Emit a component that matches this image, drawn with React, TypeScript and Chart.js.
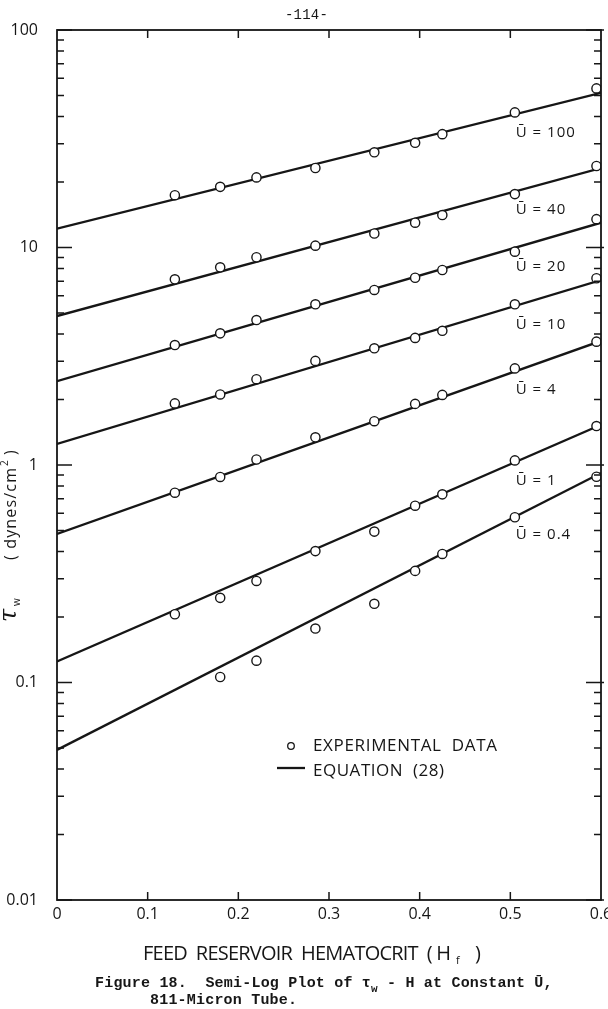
import React, { useEffect, useRef } from 'react';
import { Chart, registerables } from 'chart.js';

Chart.register(...registerables);

// Feed reservoir hematocrit values at which wall shear stress was measured
const hematocrit = [0.13, 0.18, 0.22, 0.285, 0.35, 0.395, 0.425, 0.505, 0.595];

// Mean velocity (Ū) of each family of measurements
const velocities = ['100', '40', '20', '10', '4', '1', '0.4'];

// Measured wall shear stress τw (dynes/cm²), one list per Ū
const tauU100 = [17.4, 19.0, 21.0, 23.2, 27.4, 30.3, 33.2, 41.8, 53.9];
const tauU40 = [7.14, 8.11, 9.02, 10.2, 11.6, 13.0, 14.1, 17.6, 23.7];
const tauU20 = [3.56, 4.03, 4.64, 5.48, 6.38, 7.26, 7.88, 9.57, 13.5];
const tauU10 = [1.92, 2.11, 2.48, 3.01, 3.44, 3.84, 4.14, 5.48, 7.22];
const tauU4 = [0.746, 0.881, 1.06, 1.34, 1.59, 1.91, 2.1, 2.78, 3.69];
const tauU1 = [0.206, 0.245, 0.293, 0.402, 0.494, 0.65, 0.733, 1.05, 1.51];
const tauU04 = [null, 0.106, 0.126, 0.177, 0.23, 0.326, 0.39, 0.575, 0.883];
const tauSeries = [tauU100, tauU40, tauU20, tauU10, tauU4, tauU1, tauU04];

// Equation (28) evaluated at the two ends of the hematocrit range
const equationH = [0, 0.6];
const equationAtStart = [12.2, 4.84, 2.43, 1.25, 0.482, 0.125, 0.049];
const equationAtEnd = [51.4, 23.2, 13.0, 7.09, 3.72, 1.53, 0.918];

// Axis ticks
const xTicks = [0, 0.1, 0.2, 0.3, 0.4, 0.5, 0.6];
const xTickLabels = ['0', '0.1', '0.2', '0.3', '0.4', '0.5', '0.6'];
const yDecades = [0.01, 0.1, 1, 10, 100];
const yTickLabels = ['0.01', '0.1', '1', '10', '100'];

// Hematocrit at which the Ū labels sit under each line
const labelH = 0.506;

const INK = '#161616';
const SANS = '"Open Sans", "DejaVu Sans", sans-serif';
const MONO = '"Liberation Mono", "DejaVu Sans Mono", monospace';

function fitText(ctx: CanvasRenderingContext2D, text: string, x: number, y: number, width: number) {
  (ctx as any).letterSpacing = '0px';
  const w = ctx.measureText(text).width;
  const n = Array.from(text).length;
  const ls = n > 1 ? (width - w) / (n - 1) : 0;
  (ctx as any).letterSpacing = `${ls}px`;
  ctx.fillText(text, x, y);
  (ctx as any).letterSpacing = '0px';
}

function equationValue(i: number, h: number) {
  const a = Math.log10(equationAtStart[i]);
  const b = Math.log10(equationAtEnd[i]);
  const t = (h - equationH[0]) / (equationH[1] - equationH[0]);
  return Math.pow(10, a + (b - a) * t);
}

const paperPlugin = {
  id: 'paperFrame',
  afterDatasetsDraw(chart: any) {
    const { ctx, chartArea: a, scales } = chart;
    const xs = scales.x;
    const ys = scales.y;
    ctx.save();

    // Frame
    ctx.strokeStyle = INK;
    ctx.lineWidth = 1.8;
    ctx.strokeRect(a.left, a.top, a.right - a.left, a.bottom - a.top);

    // Inward tick marks
    ctx.lineWidth = 1.5;
    ctx.beginPath();
    xTicks.slice(1, -1).forEach((v) => {
      const px = xs.getPixelForValue(v);
      ctx.moveTo(px, a.bottom);
      ctx.lineTo(px, a.bottom - 8);
      ctx.moveTo(px, a.top);
      ctx.lineTo(px, a.top + 8);
    });
    yDecades.forEach((d, di) => {
      for (let m = 1; m <= 9; m++) {
        if (di === yDecades.length - 1 && m > 1) break;
        const py = ys.getPixelForValue(d * m);
        const len = m === 1 ? 15 : 7;
        ctx.moveTo(a.left, py);
        ctx.lineTo(a.left + len, py);
        ctx.moveTo(a.right + (m === 1 ? 3 : 0), py);
        ctx.lineTo(a.right - len, py);
      }
    });
    ctx.stroke();

    ctx.fillStyle = INK;
    ctx.textBaseline = 'alphabetic';
    ctx.textAlign = 'left';

    // Ū labels beneath each equation line
    ctx.font = `15px ${SANS}`;
    const lx = xs.getPixelForValue(labelH);
    velocities.forEach((u, i) => {
      const ly = ys.getPixelForValue(equationValue(i, labelH)) + 23;
      const text = `Ū = ${u}`;
      (ctx as any).letterSpacing = '1px';
      ctx.fillText(text, lx, ly);
      (ctx as any).letterSpacing = '0px';
    });

    // Legend
    const gx = a.left + 234;
    const gy = a.top + 721;
    ctx.lineWidth = 1.3;
    ctx.beginPath();
    ctx.arc(gx, gy - 5, 3.3, 0, Math.PI * 2);
    ctx.stroke();
    ctx.font = `17px ${SANS}`;
    fitText(ctx, 'EXPERIMENTAL  DATA', gx + 22, gy, 184);
    ctx.lineWidth = 2.3;
    ctx.beginPath();
    ctx.moveTo(gx - 14, gy + 17);
    ctx.lineTo(gx + 14, gy + 17);
    ctx.stroke();
    fitText(ctx, 'EQUATION  (28)', gx + 22, gy + 25, 131);

    // X axis title
    ctx.font = `20px ${SANS}`;
    const tx = a.left + 86;
    const ty = a.bottom + 60;
    fitText(ctx, 'FEED  RESERVOIR  HEMATOCRIT  ( H', tx, ty, 308);
    ctx.font = `11px ${SANS}`;
    ctx.fillText('f', tx + 313, ty + 4);
    ctx.font = `20px ${SANS}`;
    ctx.fillText(')', tx + 332, ty);

    // Y axis title, rotated
    ctx.save();
    ctx.translate(16, a.top + 592);
    ctx.rotate(-Math.PI / 2);
    ctx.font = `italic 24px "DejaVu Serif", serif`;
    ctx.fillText('τ', 0, 0);
    ctx.font = `10px ${SANS}`;
    ctx.fillText('w', 16, 4);
    ctx.font = `16px ${SANS}`;
    fitText(ctx, '( dynes/cm', 62, 0, 92);
    ctx.font = `10px ${SANS}`;
    ctx.fillText('2', 156, -8);
    ctx.font = `16px ${SANS}`;
    ctx.fillText(')', 167, 0);
    ctx.restore();

    ctx.restore();
  },
};

export default function App() {
  const canvasRef = useRef<HTMLCanvasElement | null>(null);

  useEffect(() => {
    const canvas = canvasRef.current;
    if (!canvas) return;

    const lineSets = velocities.map((u, i) => ({
      type: 'scatter' as const,
      label: `Equation (28), Ū = ${u}`,
      data: equationH.map((h, k) => ({ x: h, y: k === 0 ? equationAtStart[i] : equationAtEnd[i] })),
      showLine: true,
      borderColor: INK,
      borderWidth: 2.3,
      pointRadius: 0,
      order: 2,
    }));

    const pointSets = velocities.map((u, i) => ({
      type: 'scatter' as const,
      label: `Experimental, Ū = ${u}`,
      data: hematocrit
        .map((h, k) => ({ x: h, y: tauSeries[i][k] }))
        .filter((p) => p.y !== null),
      showLine: false,
      pointRadius: 4.6,
      pointBorderWidth: 1.4,
      pointBorderColor: INK,
      pointBackgroundColor: '#ffffff',
      order: 1,
    }));

    const chart = new Chart(canvas, {
      type: 'scatter',
      data: { datasets: [...pointSets, ...lineSets] as any },
      options: {
        responsive: false,
        animation: false,
        events: [],
        layout: { padding: { left: 0, top: 30, right: 7, bottom: 0 } },
        plugins: { legend: { display: false }, tooltip: { enabled: false }, title: { display: false } },
        scales: {
          x: {
            type: 'linear',
            min: 0,
            max: 0.6,
            grid: { display: false, drawTicks: false },
            border: { display: false },
            afterBuildTicks: (scale: any) => {
              scale.ticks = xTicks.map((v) => ({ value: v }));
            },
            afterFit: (scale: any) => {
              scale.height = 109;
              scale.paddingLeft = 0;
              scale.paddingRight = 0;
            },
            ticks: {
              autoSkip: false,
              maxRotation: 0,
              padding: 5,
              color: INK,
              font: { family: SANS, size: 16 },
              callback: (value: any) => {
                const i = xTicks.findIndex((t) => Math.abs(t - value) < 1e-9);
                return i >= 0 ? xTickLabels[i] : '';
              },
            },
          },
          y: {
            type: 'logarithmic',
            min: 0.01,
            max: 100,
            grid: { display: false, drawTicks: false },
            border: { display: false },
            afterBuildTicks: (scale: any) => {
              scale.ticks = yDecades.map((v) => ({ value: v, major: true }));
            },
            afterFit: (scale: any) => {
              scale.width = 57;
              scale.paddingTop = 0;
              scale.paddingBottom = 0;
            },
            ticks: {
              autoSkip: false,
              padding: 19,
              color: INK,
              font: { family: SANS, size: 16 },
              callback: (value: any) => {
                const i = yDecades.findIndex((d) => Math.abs(d - value) / d < 1e-6);
                return i >= 0 ? yTickLabels[i] : '';
              },
            },
          },
        },
      },
      plugins: [paperPlugin],
    });

    return () => chart.destroy();
  }, []);

  const mono: React.CSSProperties = {
    position: 'absolute',
    fontFamily: MONO,
    fontSize: 15,
    fontWeight: 'bold',
    letterSpacing: '0.2px',
    lineHeight: '17px',
    color: INK,
    whiteSpace: 'pre',
    margin: 0,
  };

  return (
    <div
      style={{
        position: 'absolute',
        left: 0,
        top: 0,
        width: 608,
        height: 1009,
        overflow: 'hidden',
        background: '#ffffff',
      }}
    >
      <canvas ref={canvasRef} width={608} height={1009} style={{ display: 'block' }} />
      <div style={{ ...mono, left: 285, top: 7, fontSize: 14, fontWeight: 'normal' }}>-114-</div>
      <div style={{ ...mono, left: 95, top: 975 }}>
        {'Figure 18.  Semi-Log Plot of τ'}
        <span style={{ fontSize: 11, position: 'relative', top: 5 }}>w</span>
        {' - H at Constant Ū,'}
      </div>
      <div style={{ ...mono, left: 150, top: 992 }}>811-Micron Tube.</div>
    </div>
  );
}
